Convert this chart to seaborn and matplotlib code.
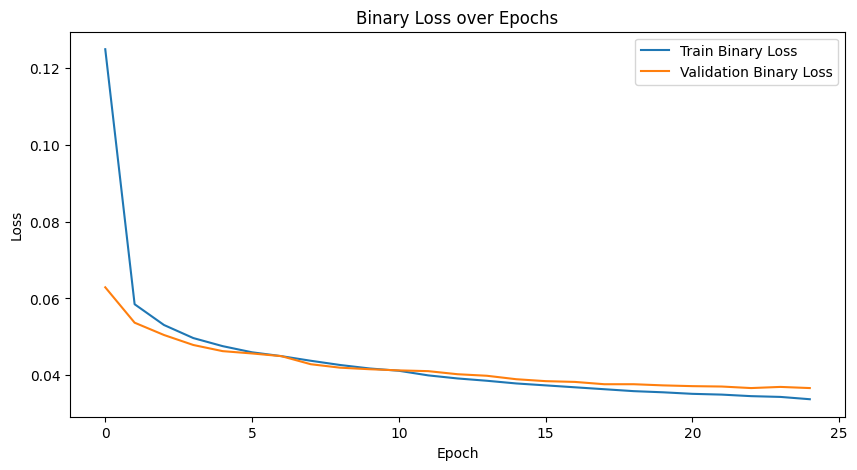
import numpy as np
import matplotlib
matplotlib.use("Agg")
import matplotlib.pyplot as plt
import seaborn as sns

epochs = list(range(25))
train_loss = [0.1248, 0.0585, 0.0531, 0.0497, 0.0476, 0.0460, 0.0450, 0.0438, 0.0427,
              0.0418, 0.0412, 0.0400, 0.0392, 0.0386, 0.0379, 0.0374, 0.0369, 0.0364,
              0.0359, 0.0356, 0.0352, 0.0350, 0.0346, 0.0344, 0.0338]
val_loss = [0.0629, 0.0537, 0.0505, 0.0479, 0.0463, 0.0457, 0.0450, 0.0429, 0.0420,
            0.0416, 0.0413, 0.0411, 0.0403, 0.0399, 0.0390, 0.0385, 0.0383, 0.0377,
            0.0377, 0.0374, 0.0372, 0.0371, 0.0367, 0.0370, 0.0367]

plt.figure(figsize=(10, 5), dpi=100)
sns.lineplot(x=epochs, y=train_loss, label='Train Binary Loss')
sns.lineplot(x=epochs, y=val_loss, label='Validation Binary Loss')
plt.title('Binary Loss over Epochs')
plt.xlabel('Epoch')
plt.ylabel('Loss')
plt.legend(loc='upper right')
plt.savefig('out.png', bbox_inches='tight')
